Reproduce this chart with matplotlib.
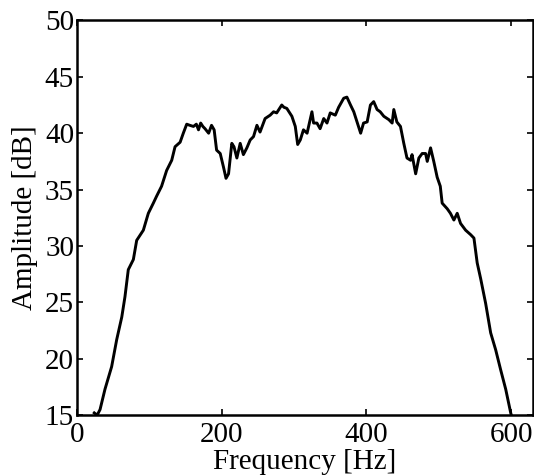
import matplotlib
matplotlib.use("Agg")
import matplotlib.pyplot as plt

freq = [24, 28, 32, 38.8, 48, 55, 62, 66.4, 71, 78, 82.6, 91.8, 97.3, 98.7, 105.6, 110, 117, 124,
        131, 135.6, 142.6, 147, 151.7, 156, 161, 165, 168, 171, 174, 177, 182, 186, 189.6, 193, 198,
        202.5, 206, 209.5, 214, 217, 221, 225.6, 230, 234.8, 239.4, 244, 248.7, 253, 260, 267,
        271.7, 276, 283, 286, 290, 297, 301.7, 305, 308.6, 313, 318, 324.7, 327, 331.6, 336, 341,
        345.5, 350, 357, 361.6, 368.6, 373, 378, 382.5, 387, 392, 396, 401, 405.5, 410, 414.7, 419,
        424, 431, 435.5, 437.8, 442, 447, 451.6, 456, 461, 463, 468, 472.4, 477, 481.7, 484, 488.6,
        493, 497.7, 502, 504.6, 511.6, 516, 520.8, 525.4, 530, 537, 544, 548.5, 553, 557.8, 564.7,
        571.6, 578.5, 585.5, 592.4, 599.3, 601]
amp = [15.2, 15.0, 15.5, 17.3, 19.3, 21.7, 23.7, 25.5, 27.9, 28.8, 30.5, 31.4, 32.6, 32.9, 33.8,
       34.4, 35.3, 36.7, 37.6, 38.8, 39.2, 40.0, 40.8, 40.7, 40.6, 40.8, 40.3, 40.9, 40.6, 40.4,
       40.0, 40.7, 40.3, 38.5, 38.2, 37.0, 36.0, 36.4, 39.1, 38.8, 37.8, 39.1, 38.1, 38.7, 39.4,
       39.7, 40.7, 40.1, 41.3, 41.6, 41.9, 41.8, 42.5, 42.3, 42.2, 41.5, 40.6, 39.0, 39.4, 40.3,
       40.0, 41.9, 40.9, 40.9, 40.4, 41.3, 40.9, 41.8, 41.6, 42.3, 43.1, 43.2, 42.5, 41.9, 41.0,
       40.0, 40.9, 41.0, 42.5, 42.8, 42.1, 41.9, 41.5, 41.2, 40.9, 42.1, 41.0, 40.6, 39.1, 37.8,
       37.6, 38.1, 36.4, 37.8, 38.2, 38.2, 37.5, 38.7, 37.5, 36.1, 35.3, 33.8, 33.3, 32.9, 32.3,
       32.9, 32.0, 31.4, 31.0, 30.7, 28.5, 27.1, 24.9, 22.3, 20.8, 19.0, 17.3, 15.2, 14.8]

xticks = [0, 200, 400, 600]
yticks = [15, 20, 25, 30, 35, 40, 45, 50]

plt.rcParams['font.family'] = ['Liberation Serif', 'DejaVu Serif']

fig = plt.figure(figsize=(5.34, 4.75), dpi=100)
ax = fig.add_axes([0.144, 0.126, 0.854, 0.831])
ax.plot(freq, amp, color='black', linewidth=2.1)
ax.set_xlim(0, 630)
ax.set_ylim(15, 50)
ax.set_xticks(xticks)
ax.set_yticks(yticks)
ax.tick_params(direction='in', length=4, width=1.2, top=True, right=True, labelsize=21)
ax.tick_params(axis='x', pad=5)
ax.tick_params(axis='y', pad=2)
for s in ax.spines.values():
    s.set_linewidth(1.8)
ax.set_xlabel('Frequency [Hz]', fontsize=21, labelpad=1)
ax.set_ylabel('Amplitude [dB]', fontsize=21, labelpad=5)
fig.savefig('out.png', dpi=100)
